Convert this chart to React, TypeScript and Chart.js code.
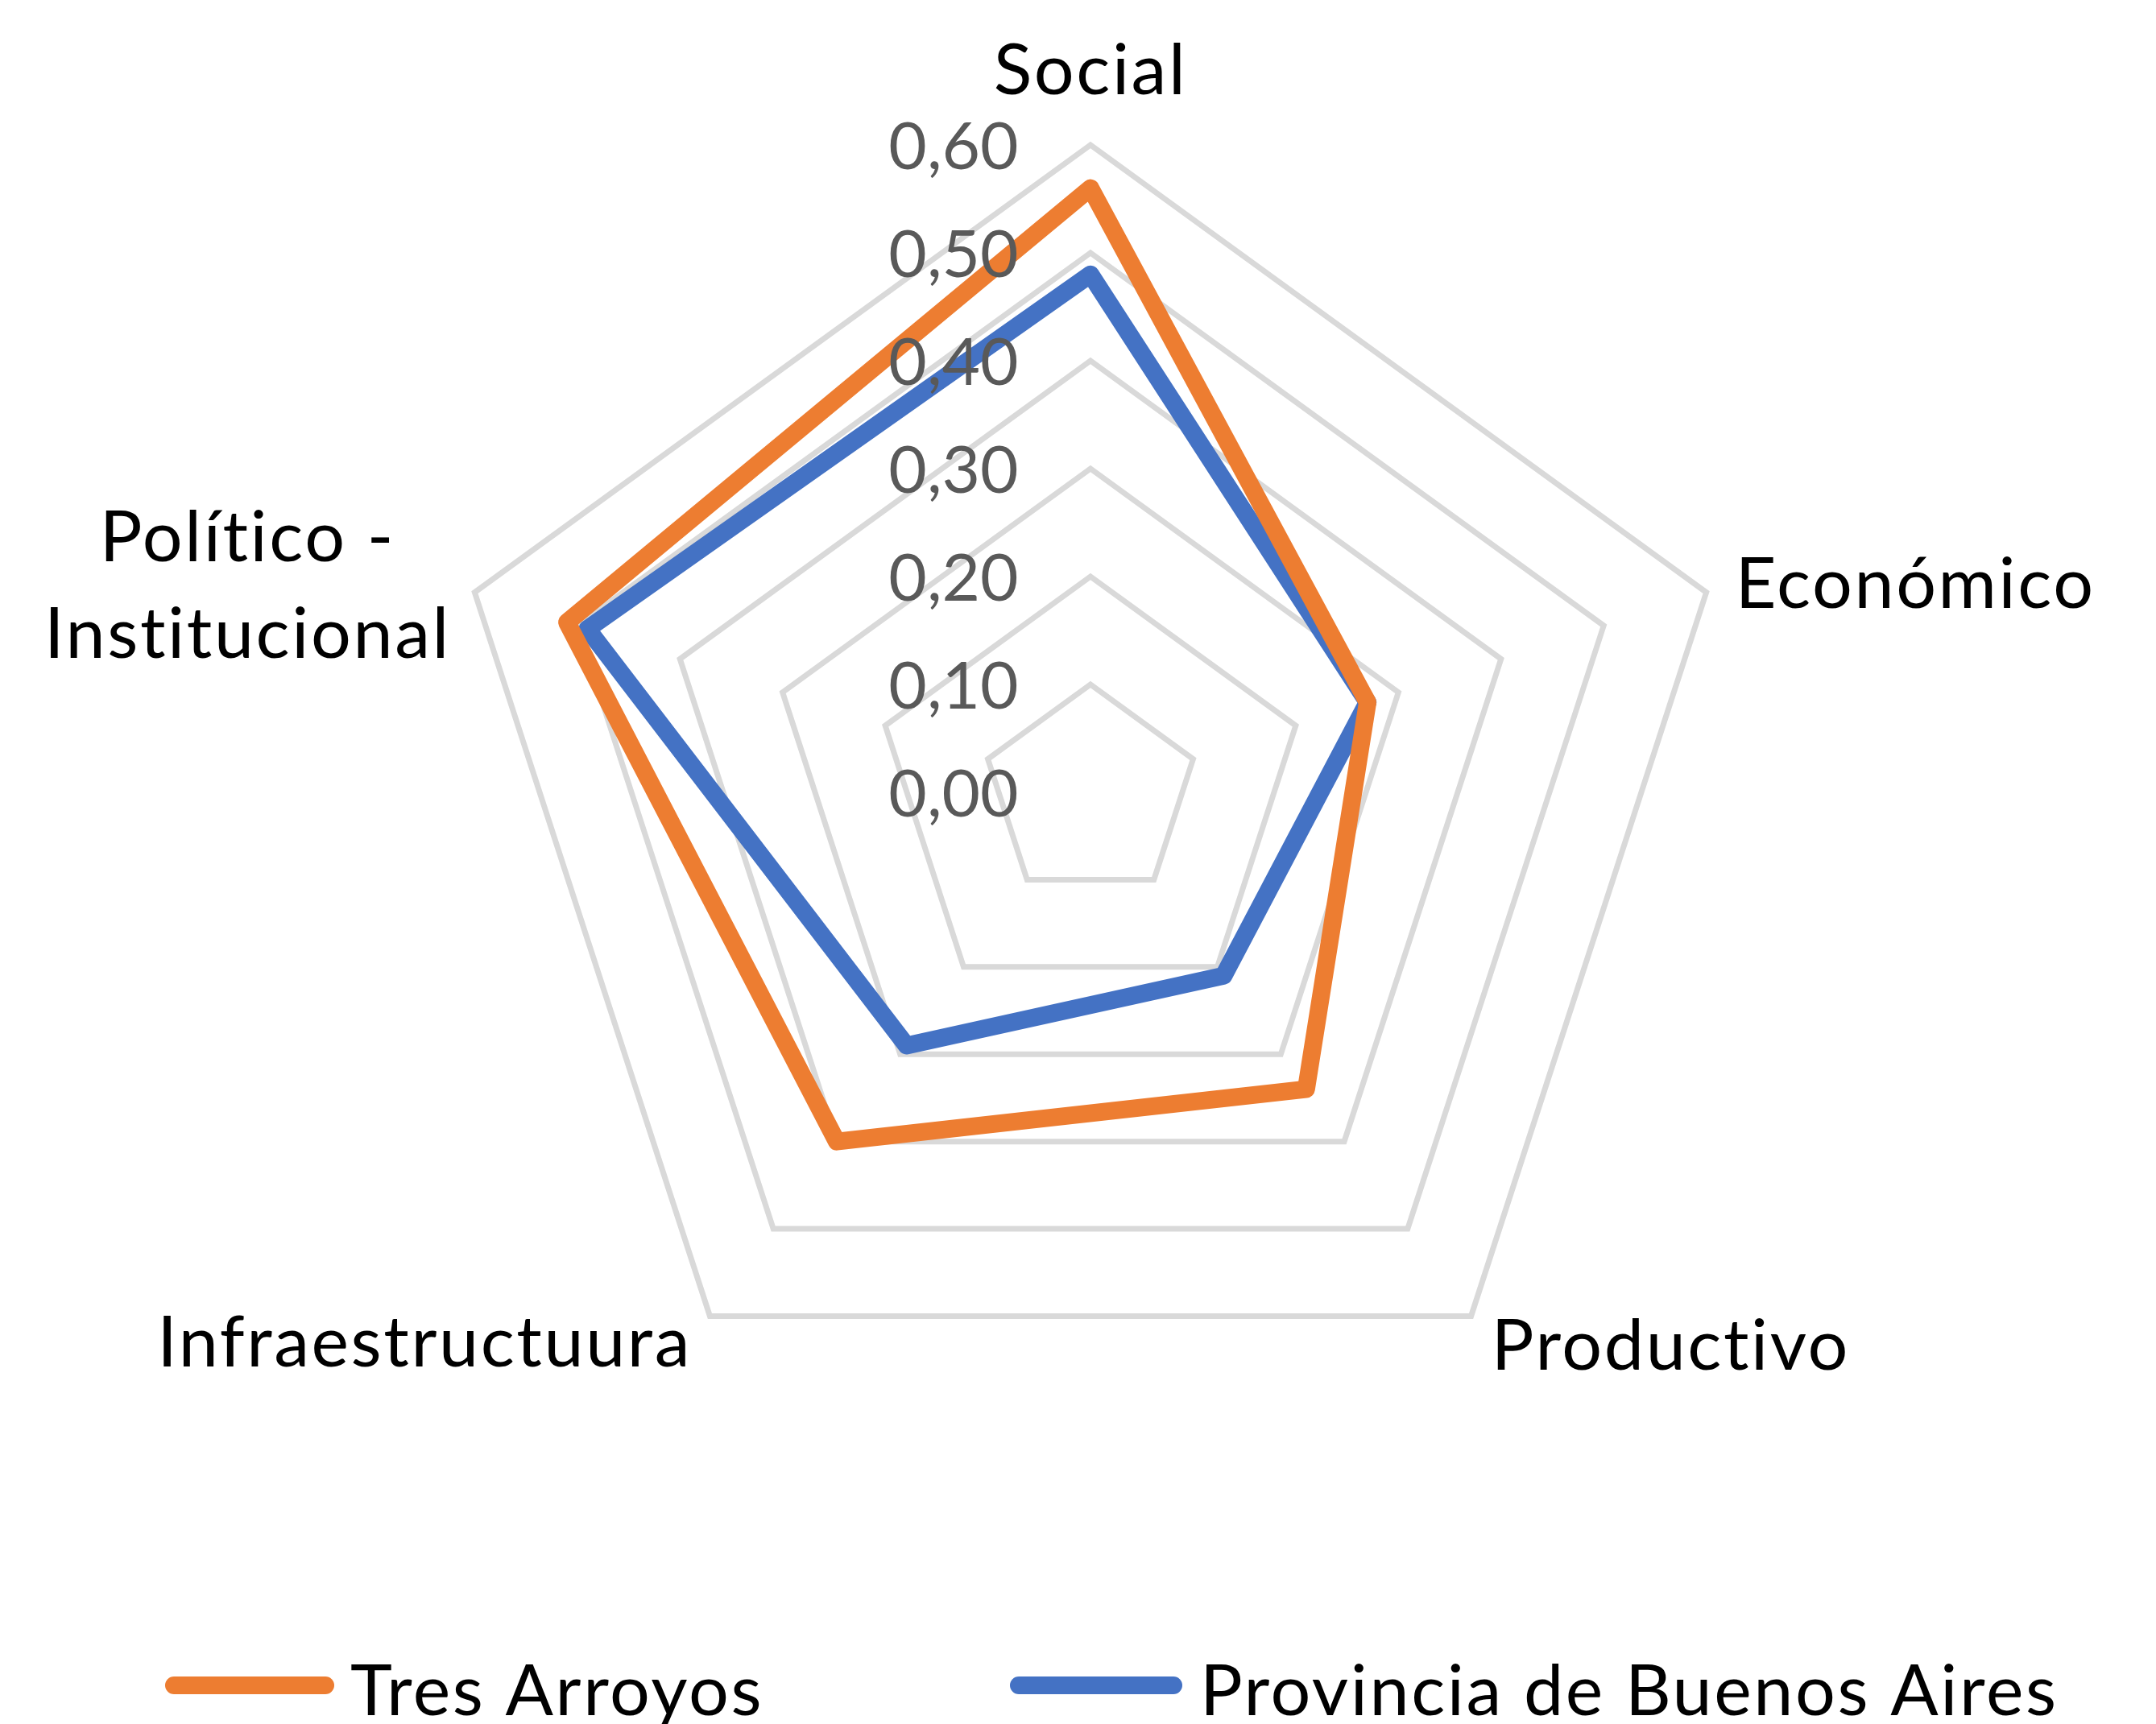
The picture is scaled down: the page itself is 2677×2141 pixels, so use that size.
import React, { useEffect, useRef } from "react";
import { Chart, registerables } from "chart.js";

Chart.register(...registerables);

// ---- data ----
const categories: (string | string[])[] = [
  "Social",
  "Económico",
  "Productivo",
  "Infraestructuura",
  ["Político -", "Institucional"],
];
const seriesNames = ["Tres Arroyos", "Provincia de Buenos Aires"];
const tresArroyos = [0.56, 0.27, 0.34, 0.4, 0.51];
const provinciaBuenosAires = [0.48, 0.27, 0.21, 0.29, 0.49];
const tickValues = [0, 0.1, 0.2, 0.3, 0.4, 0.5, 0.6];
const tickLabels = ["0,00", "0,10", "0,20", "0,30", "0,40", "0,50", "0,60"];
const seriesColors = ["#ED7D31", "#4472C4"];

// ---- layout / style ----
const W = 2677;
const H = 2141;
const FONT = "Lato, 'Open Sans', sans-serif";
const LABEL_SIZE = 88;
const TICK_SIZE = 82;
const CAP = 63;
const TICK_CAP = 59;
const LINE_H = 120;
const LETTER_SPACING = "2.6px";

const labelPlacement = [
  { d: 95, align: "center" },
  { d: 38, align: "left" },
  { d: 43, align: "left" },
  { d: 38, align: "right" },
  { d: 31, align: "right" },
];

const legendItems = [
  { x0: 205, x1: 415, tx: 435 },
  { x0: 1254, x1: 1468, tx: 1490 },
];
const LEGEND_LINE_Y = 2093;
const LEGEND_BASE_Y = 2130;

const labelPlugin = {
  id: "excelLabels",
  afterDraw(chart: any) {
    const scale = chart.scales.r;
    const ctx = chart.ctx as any;
    ctx.save();

    // tick labels
    ctx.font = `${TICK_SIZE}px ${FONT}`;
    ctx.fillStyle = "#595959";
    ctx.textAlign = "center";
    ctx.textBaseline = "alphabetic";
    tickValues.forEach((v, i) => {
      const p = scale.getPointPositionForValue(0, v);
      ctx.fillText(tickLabels[i], scale.xCenter - 170, p.y + TICK_CAP / 2);
    });

    // point labels
    ctx.font = `${LABEL_SIZE}px ${FONT}`;
    if ("letterSpacing" in ctx) ctx.letterSpacing = LETTER_SPACING;
    ctx.fillStyle = "#000000";
    categories.forEach((lab, i) => {
      const pl = labelPlacement[i];
      const p = scale.getPointPosition(i, scale.drawingArea + pl.d);
      const lines = Array.isArray(lab) ? lab : [lab];
      const bw = Math.max(...lines.map((l) => ctx.measureText(l).width));
      const cx =
        pl.align === "center" ? p.x : pl.align === "left" ? p.x + bw / 2 : p.x - bw / 2;
      const totalH = (lines.length - 1) * LINE_H;
      ctx.textAlign = "center";
      lines.forEach((l, j) => {
        ctx.fillText(l, cx, p.y - totalH / 2 + j * LINE_H + CAP / 2);
      });
    });

    // legend
    chart.data.datasets.forEach((ds: any, i: number) => {
      const it = legendItems[i];
      ctx.strokeStyle = ds.borderColor;
      ctx.lineWidth = 22;
      ctx.lineCap = "round";
      ctx.beginPath();
      ctx.moveTo(it.x0 + 11, LEGEND_LINE_Y);
      ctx.lineTo(it.x1 - 11, LEGEND_LINE_Y);
      ctx.stroke();
      ctx.textAlign = "left";
      ctx.fillStyle = "#000000";
      ctx.fillText(ds.label, it.tx, LEGEND_BASE_Y);
    });

    ctx.restore();
  },
};

export default function App() {
  const ref = useRef<HTMLCanvasElement | null>(null);

  useEffect(() => {
    if (!ref.current) return;
    const chart = new Chart(ref.current, {
      type: "radar",
      data: {
        labels: categories as any,
        datasets: [
          {
            label: seriesNames[0],
            data: tresArroyos,
            borderColor: seriesColors[0],
            backgroundColor: "transparent",
            fill: false,
          },
          {
            label: seriesNames[1],
            data: provinciaBuenosAires,
            borderColor: seriesColors[1],
            backgroundColor: "transparent",
            fill: false,
          },
        ],
      },
      options: {
        responsive: false,
        animation: false,
        devicePixelRatio: 1,
        layout: { padding: { top: 180, bottom: 353, left: 354, right: 323 } },
        plugins: { legend: { display: false }, tooltip: { enabled: false } },
        elements: {
          line: { borderWidth: 22, borderJoinStyle: "round", tension: 0 },
          point: { radius: 0, hoverRadius: 0 },
        },
        scales: {
          r: {
            min: 0,
            max: 0.6,
            ticks: { display: false, stepSize: 0.1 },
            grid: { color: "#D9D9D9", lineWidth: 7 },
            angleLines: { display: false },
            pointLabels: { display: false },
          },
        },
      } as any,
      plugins: [labelPlugin],
    });
    const fonts: any = (document as any).fonts;
    if (fonts && fonts.load) {
      fonts.load(`${LABEL_SIZE}px Lato`).then(() => chart.draw()).catch(() => {});
    }
    return () => chart.destroy();
  }, []);

  return (
    <div style={{ position: "absolute", left: 0, top: 0, width: W, height: H, overflow: "hidden", background: "#fff" }}>
      <canvas ref={ref} width={W} height={H} style={{ display: "block", width: W, height: H }} />
    </div>
  );
}
